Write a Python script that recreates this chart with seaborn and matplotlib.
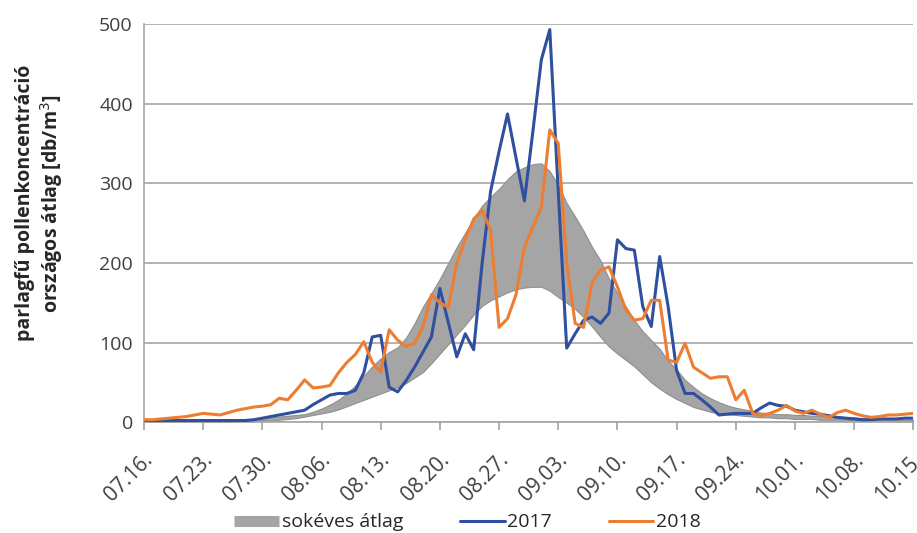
import numpy as np
import pandas as pd
import seaborn as sns
import matplotlib.pyplot as plt
from matplotlib.lines import Line2D
from matplotlib.transforms import ScaledTranslation

sns.set_theme(style="white")
plt.rcParams['font.family'] = ['Open Sans', 'DejaVu Sans']

# daily values 07.16. - 10.15. (92 days)
band_lower = [0, 0, 0, 0, 0, 0, 0, 0, 0, 0, 0, 1, 1, 1, 2, 2, 3, 4, 5, 7,
              9, 11, 13, 16, 20, 24, 28, 32, 36, 40, 44, 49, 56, 63, 74, 86, 98, 110, 122, 135,
              146, 153, 158, 163, 167, 169, 170, 170, 165, 157, 150, 142, 132, 120, 107, 95, 86, 78, 70, 60,
              50, 42, 35, 29, 24, 19, 16, 13, 11, 10, 9, 8, 7, 6, 6, 5, 5, 4, 4, 4,
              3, 3, 3, 3, 2, 2, 2, 2, 2, 1, 1, 1]
band_upper = [1, 1, 1, 1, 1, 1, 2, 2, 2, 2, 3, 3, 4, 4, 5, 6, 7, 8, 9, 10,
              13, 17, 22, 28, 36, 46, 58, 70, 80, 88, 94, 106, 124, 145, 162, 180, 200, 220, 238, 256,
              272, 283, 293, 305, 315, 320, 324, 325, 315, 298, 275, 258, 240, 220, 203, 180, 162, 145, 128, 114,
              103, 92, 77, 66, 53, 44, 36, 30, 25, 21, 18, 16, 14, 12, 11, 10, 10, 9, 9, 8,
              8, 7, 7, 6, 6, 5, 5, 4, 4, 4, 3, 3]
y2017 = [2, 2, 2, 2, 2, 2, 2, 2, 2, 2, 2, 2, 2, 3, 5, 7, 9, 11, 13, 15,
         22, 28, 34, 36, 36, 40, 62, 107, 109, 44, 38, 52, 69, 88, 107, 168, 125, 82, 111, 91,
         200, 290, 340, 387, 332, 278, 365, 455, 493, 290, 93, 111, 128, 132, 124, 137, 229, 218, 216, 145,
         120, 208, 145, 65, 36, 36, 28, 19, 9, 10, 11, 11, 11, 18, 24, 21, 20, 15, 13, 11,
         10, 8, 6, 5, 4, 3, 3, 4, 4, 4, 5, 5]
y2018 = [3, 3, 4, 5, 6, 7, 9, 11, 10, 9, 12, 15, 17, 19, 20, 22, 30, 28, 40, 53,
         43, 44, 46, 62, 75, 85, 101, 75, 63, 116, 103, 95, 99, 120, 160, 150, 144, 200, 230, 255,
         266, 241, 119, 130, 160, 220, 245, 270, 367, 350, 200, 124, 119, 175, 191, 195, 170, 141, 128, 130,
         153, 153, 78, 75, 99, 69, 62, 55, 57, 57, 28, 40, 11, 8, 11, 15, 21, 14, 11, 15,
         10, 6, 12, 15, 11, 8, 6, 7, 9, 9, 10, 11]
tick_labels = ["07.16.", "07.23.", "07.30.", "08.06.", "08.13.", "08.20.", "08.27.",
               "09.03.", "09.10.", "09.17.", "09.24.", "10.01.", "10.08.", "10.15."]

df = pd.DataFrame({"nap": np.arange(len(y2017)), "2017": y2017, "2018": y2018,
                   "also": band_lower, "felso": band_upper})

fig, ax = plt.subplots(figsize=(9.17, 5.33), dpi=100)
fig.subplots_adjust(left=0.157, right=0.996, top=0.955, bottom=0.208)

ax.fill_between(df["nap"], df["also"], df["felso"], color="#a5a5a5", edgecolor="#8f8f8f", lw=0.8, zorder=2)
sns.lineplot(data=df, x="nap", y="2017", color="#2f4f9f", lw=2.2, ax=ax, zorder=3)
sns.lineplot(data=df, x="nap", y="2018", color="#ed7d31", lw=2.2, ax=ax, zorder=4)

ax.set_xlim(0, 91)
ax.set_ylim(0, 500)
ax.set_yticks(range(0, 501, 100))
ax.yaxis.grid(True, color="#a6a6a6", lw=1.2)
ax.set_xticks(np.arange(0, 92, 7))
ax.set_xticklabels(tick_labels, rotation=45, ha="right", va="center", rotation_mode="anchor")
ax.tick_params(axis="x", length=6, color="#a6a6a6", labelsize=15, labelcolor="#404040", pad=19, bottom=True)
ax.tick_params(axis="y", length=0, labelsize=14, labelcolor="#404040", pad=8)
shift = ScaledTranslation(6 / 100, 0, fig.dpi_scale_trans)
for lab in ax.get_xticklabels():
    lab.set_transform(lab.get_transform() + shift)
for s in ["top", "right"]:
    ax.spines[s].set_visible(False)
for s in ["left", "bottom"]:
    ax.spines[s].set_color("#a6a6a6")
    ax.spines[s].set_linewidth(1.2)

ax.set_xlabel("")
ax.set_ylabel("parlagfű pollenkoncentráció\nországos átlag [db/m$^3$]", fontsize=14,
              fontweight="bold", color="#262626", linespacing=1.2)
ax.yaxis.set_label_coords(-0.102, 0.55)

handles = [Line2D([], [], color="#a5a5a5", lw=8, solid_capstyle="butt"),
           Line2D([], [], color="#2f4f9f", lw=2.2),
           Line2D([], [], color="#ed7d31", lw=2.2)]
fig.legend(handles, ["sokéves átlag", "2017", "2018"], loc="center", bbox_to_anchor=(0.51, 0.02),
           ncol=3, frameon=False, fontsize=14, handlelength=2.3, handletextpad=0.15,
           columnspacing=2.9, labelcolor="#262626")

fig.savefig("out.png", dpi=100)
